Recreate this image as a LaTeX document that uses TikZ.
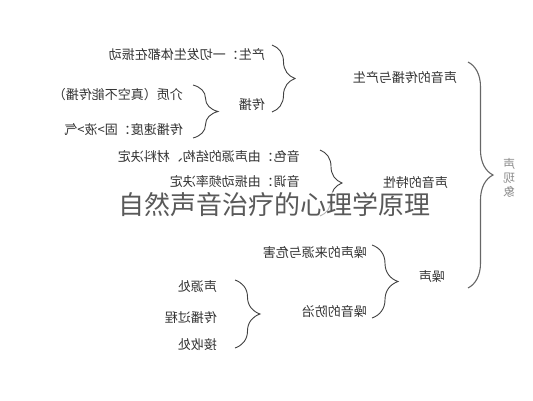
\documentclass[tikz,border=0pt]{standalone}
\usepackage{fontspec}
\usepackage{graphicx}
\newfontfamily\cjk{Noto Sans CJK SC}
\usetikzlibrary{decorations.pathreplacing}

\begin{document}
\begin{tikzpicture}[x=1pt,y=-1pt]

\tikzset{item/.style={anchor=east, inner sep=0pt, text=black!80, font=\cjk\fontsize{13}{13}\selectfont},
bracket/.style={decorate, decoration={brace, amplitude=#1}, draw=black!75, line width=0.9pt},
%default amplitude
bracket/.default={24pt}}

\useasboundingbox (0,0) rectangle (533,400);

% main topic and big brace
\node[text=black!45, inner sep=0pt, font=\cjk\fontsize{12}{12.5}\selectfont] (topic) at (509,178) {\reflectbox{\shortstack{声\\现\\象}}};
\coordinate (maintop) at (468,62);
\coordinate (mainbot) at (468,288);
\draw[bracket=25pt, draw=black!60, line width=1.1pt] (maintop) -- (mainbot);

% second level
\node[item] (spread) at (457,78) {\reflectbox{声音的传播与产生}};
\node[item] (feature) at (448,183) {\reflectbox{声音的特性}};
\node[item] (noise) at (445,277) {\reflectbox{噪声}};

% third level
\node[item] (origin) at (265,55) {\reflectbox{产生：一切发生体都在振动}};
\node[item] (travel) at (265,105) {\reflectbox{传播}};
\node[item] (timbre) at (300,157) {\reflectbox{音色：由声源的结构、材料决定}};
\node[item] (pitch) at (300,182) {\reflectbox{音调：由振动频率决定}};
\node[item] (harm) at (367,253) {\reflectbox{噪声的来源与危害}};
\node[item] (control) at (367,312) {\reflectbox{噪音的防治}};

% fourth level
\node[item] (medium) at (183,95) {\reflectbox{介质（真空不能传播）}};
\node[item] (speed) at (183,130) {\reflectbox{传播速度：固>液>气}};
\node[item] (source) at (217,287) {\reflectbox{声源处}};
\node[item] (path) at (217,318) {\reflectbox{传播过程}};
\node[item] (ear) at (217,345) {\reflectbox{接收处}};

% small braces
\foreach \n/\x/\ya/\yb/\a in {gen/272/45/112/23, med/193/85/138/25, snd/320/150/216/22, nse/372/245/318/26, ctl/235/280/348/25}
{
\coordinate (\n top) at (\x,\ya);
\coordinate (\n bot) at (\x,\yb);
\draw[bracket=\a pt] (\n top) -- (\n bot);
}

% overlay title
\node[fill=white, fill opacity=0.6, text opacity=1, text=black!65, inner sep=1pt, font=\cjk\fontsize{26}{26}\selectfont] (title) at (274,205) {自然声音治疗的心理学原理};

\end{tikzpicture}
\end{document}
